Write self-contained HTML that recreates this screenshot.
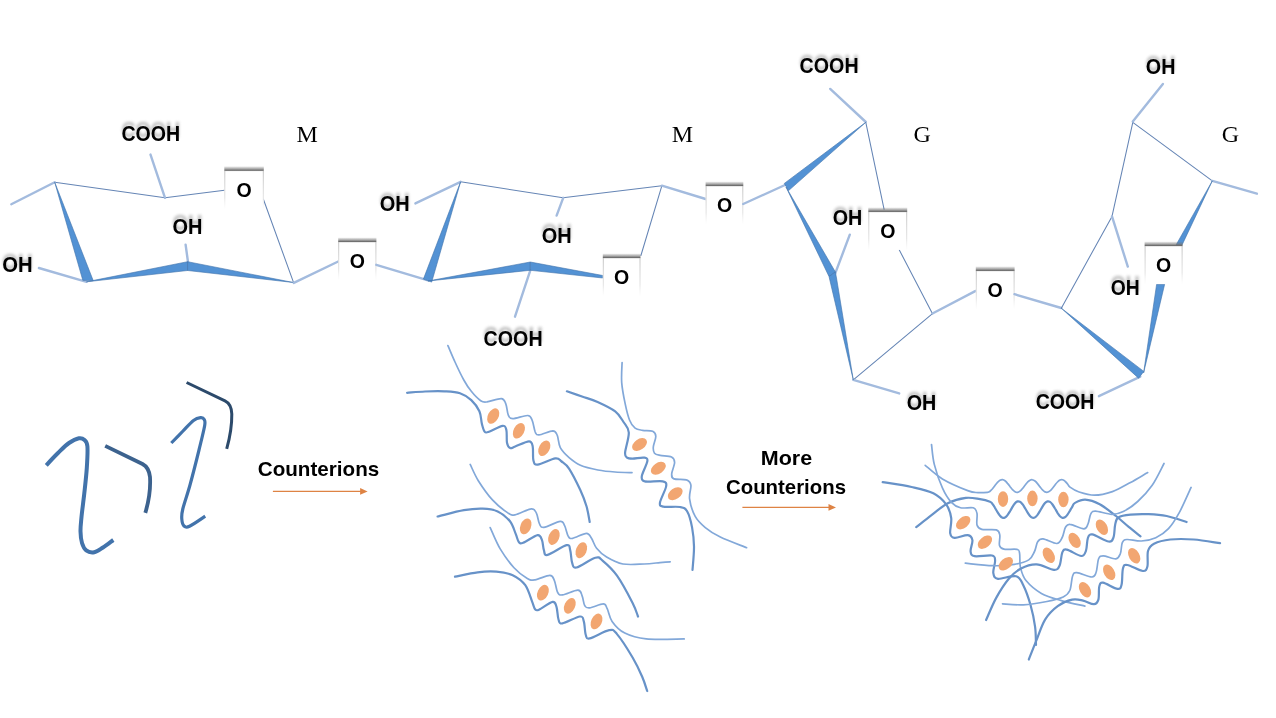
<!DOCTYPE html>
<html><head><meta charset="utf-8"><title>Alginate egg-box</title>
<style>
html,body{margin:0;padding:0;background:#fff;}
body{width:1276px;height:718px;overflow:hidden;font-family:"Liberation Sans",sans-serif;}
svg{display:block;opacity:0.999;}
</style></head><body>
<svg width="1276" height="718" viewBox="0 0 1276 718">
<defs>
<linearGradient id="topsh" x1="0" y1="0" x2="0" y2="1">
<stop offset="0" stop-color="#6e6e6e" stop-opacity="0"/>
<stop offset="0.45" stop-color="#7a7a7a" stop-opacity="0.55"/>
<stop offset="0.85" stop-color="#666" stop-opacity="0.95"/>
<stop offset="1" stop-color="#888" stop-opacity="0.6"/>
</linearGradient>
<linearGradient id="sidesh" x1="0" y1="0" x2="0" y2="1">
<stop offset="0" stop-color="#bdbdbd" stop-opacity="0.9"/>
<stop offset="0.7" stop-color="#cfcfcf" stop-opacity="0.6"/>
<stop offset="1" stop-color="#e0e0e0" stop-opacity="0"/>
</linearGradient>
<filter id="glow" x="-20%" y="-40%" width="140%" height="180%"><feGaussianBlur stdDeviation="1.6"/></filter>
</defs>
<rect width="1276" height="718" fill="#ffffff"/>
<line x1="54.7" y1="182.2" x2="165.0" y2="197.8" stroke="#6585b5" stroke-width="1.05" stroke-linecap="round"/>
<line x1="165.0" y1="197.8" x2="224.5" y2="190.2" stroke="#6585b5" stroke-width="1.05" stroke-linecap="round"/>
<line x1="263.3" y1="199.0" x2="293.6" y2="282.6" stroke="#6585b5" stroke-width="1.05" stroke-linecap="round"/>
<line x1="11.3" y1="204.3" x2="54.7" y2="182.2" stroke="#a3bbde" stroke-width="2.40" stroke-linecap="round"/>
<line x1="150.5" y1="154.6" x2="165.0" y2="197.8" stroke="#a3bbde" stroke-width="2.40" stroke-linecap="round"/>
<line x1="38.9" y1="268.0" x2="86.5" y2="281.8" stroke="#a3bbde" stroke-width="2.40" stroke-linecap="round"/>
<line x1="185.6" y1="244.7" x2="188.0" y2="262.0" stroke="#a3bbde" stroke-width="2.40" stroke-linecap="round"/>
<polygon points="54.7,182.2 82.8,280.3 93.3,280.8" fill="#5392d4" stroke="#3f72ab" stroke-width="0.6" stroke-linejoin="round"/>
<polygon points="86.5,281.8 187.6,261.7 187.6,270.5" fill="#5392d4" stroke="#3f72ab" stroke-width="0.6" stroke-linejoin="round"/>
<polygon points="187.6,261.7 187.6,270.5 293.4,282.5" fill="#5392d4" stroke="#3f72ab" stroke-width="0.6" stroke-linejoin="round"/>
<line x1="293.8" y1="282.9" x2="338.2" y2="261.5" stroke="#a3bbde" stroke-width="2.40" stroke-linecap="round"/>
<rect x="224.3" y="170.3" width="39.5" height="38.5" fill="#fff"/>
<rect x="224.3" y="166.1" width="39.5" height="5" fill="url(#topsh)"/>
<rect x="224.3" y="170.8" width="1" height="38.5" fill="url(#sidesh)"/>
<rect x="262.8" y="170.8" width="1" height="38.5" fill="url(#sidesh)"/>
<text x="244.1" y="197.0" text-anchor="middle" font-family='"Liberation Sans", sans-serif' font-size="20.8" font-weight="bold" fill="#000" textLength="15.2" lengthAdjust="spacingAndGlyphs">O</text>
<text x="121.4" y="137.3" text-anchor="start" font-family='"Liberation Sans", sans-serif' font-size="21.3" font-weight="bold" fill="#555" opacity="0.42" filter="url(#glow)" textLength="58.8" lengthAdjust="spacingAndGlyphs">COOH</text>
<text x="121.4" y="140.5" text-anchor="start" font-family='"Liberation Sans", sans-serif' font-size="21.3" font-weight="bold" fill="#000" textLength="58.8" lengthAdjust="spacingAndGlyphs">COOH</text>
<text x="172.5" y="230.4" text-anchor="start" font-family='"Liberation Sans", sans-serif' font-size="21.3" font-weight="bold" fill="#555" opacity="0.42" filter="url(#glow)" textLength="30.0" lengthAdjust="spacingAndGlyphs">OH</text>
<text x="172.5" y="233.6" text-anchor="start" font-family='"Liberation Sans", sans-serif' font-size="21.3" font-weight="bold" fill="#000" textLength="30.0" lengthAdjust="spacingAndGlyphs">OH</text>
<text x="2.2" y="269.1" text-anchor="start" font-family='"Liberation Sans", sans-serif' font-size="21.3" font-weight="bold" fill="#555" opacity="0.42" filter="url(#glow)" textLength="30.4" lengthAdjust="spacingAndGlyphs">OH</text>
<text x="2.2" y="272.3" text-anchor="start" font-family='"Liberation Sans", sans-serif' font-size="21.3" font-weight="bold" fill="#000" textLength="30.4" lengthAdjust="spacingAndGlyphs">OH</text>
<text x="296.6" y="141.8" text-anchor="start" font-family='"Liberation Serif", serif' font-size="24.0" font-weight="normal" fill="#000">M</text>
<rect x="338.2" y="241.5" width="38.2" height="38.5" fill="#fff"/>
<rect x="338.2" y="237.3" width="38.2" height="5" fill="url(#topsh)"/>
<rect x="338.2" y="242.0" width="1" height="38.5" fill="url(#sidesh)"/>
<rect x="375.4" y="242.0" width="1" height="38.5" fill="url(#sidesh)"/>
<text x="357.3" y="268.1" text-anchor="middle" font-family='"Liberation Sans", sans-serif' font-size="20.8" font-weight="bold" fill="#000" textLength="15.2" lengthAdjust="spacingAndGlyphs">O</text>
<line x1="376.3" y1="264.8" x2="428.0" y2="280.3" stroke="#a3bbde" stroke-width="2.40" stroke-linecap="round"/>
<line x1="460.6" y1="181.8" x2="563.0" y2="197.7" stroke="#6585b5" stroke-width="1.05" stroke-linecap="round"/>
<line x1="563.0" y1="197.7" x2="661.9" y2="185.7" stroke="#6585b5" stroke-width="1.05" stroke-linecap="round"/>
<line x1="661.9" y1="185.7" x2="640.9" y2="255.5" stroke="#6585b5" stroke-width="1.05" stroke-linecap="round"/>
<line x1="415.4" y1="203.4" x2="460.6" y2="181.8" stroke="#a3bbde" stroke-width="2.40" stroke-linecap="round"/>
<line x1="563.2" y1="197.8" x2="556.6" y2="215.6" stroke="#a3bbde" stroke-width="2.40" stroke-linecap="round"/>
<line x1="530.3" y1="270.3" x2="515.0" y2="316.7" stroke="#a3bbde" stroke-width="2.40" stroke-linecap="round"/>
<polygon points="460.6,181.8 423.4,279.1 431.7,282.1" fill="#5392d4" stroke="#3f72ab" stroke-width="0.6" stroke-linejoin="round"/>
<polygon points="428.0,281.0 530.3,262.0 530.3,270.3" fill="#5392d4" stroke="#3f72ab" stroke-width="0.6" stroke-linejoin="round"/>
<polygon points="530.3,262.0 530.3,270.3 602.8,278.0 602.8,275.5" fill="#5392d4" stroke="#3f72ab" stroke-width="0.6" stroke-linejoin="round"/>
<rect x="602.8" y="257.5" width="37.7" height="38.5" fill="#fff"/>
<rect x="602.8" y="253.3" width="37.7" height="5" fill="url(#topsh)"/>
<rect x="602.8" y="258.0" width="1" height="38.5" fill="url(#sidesh)"/>
<rect x="639.5" y="258.0" width="1" height="38.5" fill="url(#sidesh)"/>
<text x="621.6" y="284.1" text-anchor="middle" font-family='"Liberation Sans", sans-serif' font-size="20.8" font-weight="bold" fill="#000" textLength="15.2" lengthAdjust="spacingAndGlyphs">O</text>
<text x="379.8" y="208.2" text-anchor="start" font-family='"Liberation Sans", sans-serif' font-size="21.3" font-weight="bold" fill="#555" opacity="0.42" filter="url(#glow)" textLength="30.0" lengthAdjust="spacingAndGlyphs">OH</text>
<text x="379.8" y="211.4" text-anchor="start" font-family='"Liberation Sans", sans-serif' font-size="21.3" font-weight="bold" fill="#000" textLength="30.0" lengthAdjust="spacingAndGlyphs">OH</text>
<text x="541.7" y="239.4" text-anchor="start" font-family='"Liberation Sans", sans-serif' font-size="21.3" font-weight="bold" fill="#555" opacity="0.42" filter="url(#glow)" textLength="30.0" lengthAdjust="spacingAndGlyphs">OH</text>
<text x="541.7" y="242.6" text-anchor="start" font-family='"Liberation Sans", sans-serif' font-size="21.3" font-weight="bold" fill="#000" textLength="30.0" lengthAdjust="spacingAndGlyphs">OH</text>
<text x="483.6" y="342.3" text-anchor="start" font-family='"Liberation Sans", sans-serif' font-size="21.3" font-weight="bold" fill="#555" opacity="0.42" filter="url(#glow)" textLength="59.0" lengthAdjust="spacingAndGlyphs">COOH</text>
<text x="483.6" y="345.5" text-anchor="start" font-family='"Liberation Sans", sans-serif' font-size="21.3" font-weight="bold" fill="#000" textLength="59.0" lengthAdjust="spacingAndGlyphs">COOH</text>
<text x="671.8" y="141.8" text-anchor="start" font-family='"Liberation Serif", serif' font-size="24.0" font-weight="normal" fill="#000">M</text>
<line x1="661.9" y1="185.7" x2="705.6" y2="199.0" stroke="#a3bbde" stroke-width="2.40" stroke-linecap="round"/>
<rect x="705.6" y="185.5" width="37.7" height="38.5" fill="#fff"/>
<rect x="705.6" y="181.3" width="37.7" height="5" fill="url(#topsh)"/>
<rect x="705.6" y="186.0" width="1" height="38.5" fill="url(#sidesh)"/>
<rect x="742.3" y="186.0" width="1" height="38.5" fill="url(#sidesh)"/>
<text x="724.5" y="212.2" text-anchor="middle" font-family='"Liberation Sans", sans-serif' font-size="20.8" font-weight="bold" fill="#000" textLength="15.2" lengthAdjust="spacingAndGlyphs">O</text>
<line x1="743.2" y1="204.0" x2="785.0" y2="185.0" stroke="#a3bbde" stroke-width="2.40" stroke-linecap="round"/>
<line x1="865.8" y1="122.3" x2="884.1" y2="209.3" stroke="#6585b5" stroke-width="1.05" stroke-linecap="round"/>
<line x1="899.2" y1="249.8" x2="932.5" y2="313.7" stroke="#6585b5" stroke-width="1.05" stroke-linecap="round"/>
<line x1="932.5" y1="313.7" x2="853.3" y2="379.9" stroke="#6585b5" stroke-width="1.05" stroke-linecap="round"/>
<line x1="830.2" y1="88.9" x2="865.8" y2="122.0" stroke="#a3bbde" stroke-width="2.40" stroke-linecap="round"/>
<line x1="834.0" y1="276.6" x2="849.8" y2="234.7" stroke="#a3bbde" stroke-width="2.40" stroke-linecap="round"/>
<line x1="853.3" y1="379.9" x2="899.2" y2="393.4" stroke="#a3bbde" stroke-width="2.40" stroke-linecap="round"/>
<line x1="932.5" y1="313.5" x2="975.7" y2="290.9" stroke="#a3bbde" stroke-width="2.40" stroke-linecap="round"/>
<polygon points="865.8,122.3 784.3,183.4 788.6,190.6" fill="#5392d4" stroke="#3f72ab" stroke-width="0.6" stroke-linejoin="round"/>
<polygon points="786.0,187.0 829.0,276.5 835.4,272.0" fill="#5392d4" stroke="#3f72ab" stroke-width="0.6" stroke-linejoin="round"/>
<polygon points="829.0,276.5 835.4,272.0 836.5,278.0 853.3,379.9" fill="#5392d4" stroke="#3f72ab" stroke-width="0.6" stroke-linejoin="round"/>
<rect x="868.3" y="211.4" width="38.9" height="38.5" fill="#fff"/>
<rect x="868.3" y="207.2" width="38.9" height="5" fill="url(#topsh)"/>
<rect x="868.3" y="211.9" width="1" height="38.5" fill="url(#sidesh)"/>
<rect x="906.2" y="211.9" width="1" height="38.5" fill="url(#sidesh)"/>
<text x="887.8" y="238.1" text-anchor="middle" font-family='"Liberation Sans", sans-serif' font-size="20.8" font-weight="bold" fill="#000" textLength="15.2" lengthAdjust="spacingAndGlyphs">O</text>
<text x="799.6" y="69.9" text-anchor="start" font-family='"Liberation Sans", sans-serif' font-size="21.3" font-weight="bold" fill="#555" opacity="0.42" filter="url(#glow)" textLength="59.0" lengthAdjust="spacingAndGlyphs">COOH</text>
<text x="799.6" y="73.1" text-anchor="start" font-family='"Liberation Sans", sans-serif' font-size="21.3" font-weight="bold" fill="#000" textLength="59.0" lengthAdjust="spacingAndGlyphs">COOH</text>
<text x="832.7" y="221.5" text-anchor="start" font-family='"Liberation Sans", sans-serif' font-size="21.3" font-weight="bold" fill="#555" opacity="0.42" filter="url(#glow)" textLength="29.6" lengthAdjust="spacingAndGlyphs">OH</text>
<text x="832.7" y="224.7" text-anchor="start" font-family='"Liberation Sans", sans-serif' font-size="21.3" font-weight="bold" fill="#000" textLength="29.6" lengthAdjust="spacingAndGlyphs">OH</text>
<text x="906.7" y="406.5" text-anchor="start" font-family='"Liberation Sans", sans-serif' font-size="21.3" font-weight="bold" fill="#555" opacity="0.42" filter="url(#glow)" textLength="29.6" lengthAdjust="spacingAndGlyphs">OH</text>
<text x="906.7" y="409.7" text-anchor="start" font-family='"Liberation Sans", sans-serif' font-size="21.3" font-weight="bold" fill="#000" textLength="29.6" lengthAdjust="spacingAndGlyphs">OH</text>
<text x="913.5" y="142.0" text-anchor="start" font-family='"Liberation Serif", serif' font-size="24.0" font-weight="normal" fill="#000">G</text>
<rect x="975.8" y="270.4" width="38.8" height="38.5" fill="#fff"/>
<rect x="975.8" y="266.2" width="38.8" height="5" fill="url(#topsh)"/>
<rect x="975.8" y="270.9" width="1" height="38.5" fill="url(#sidesh)"/>
<rect x="1013.6" y="270.9" width="1" height="38.5" fill="url(#sidesh)"/>
<text x="995.2" y="297.0" text-anchor="middle" font-family='"Liberation Sans", sans-serif' font-size="20.8" font-weight="bold" fill="#000" textLength="15.2" lengthAdjust="spacingAndGlyphs">O</text>
<line x1="1014.5" y1="294.2" x2="1061.3" y2="308.0" stroke="#a3bbde" stroke-width="2.40" stroke-linecap="round"/>
<line x1="1132.8" y1="122.3" x2="1212.3" y2="180.9" stroke="#6585b5" stroke-width="1.05" stroke-linecap="round"/>
<line x1="1132.8" y1="122.3" x2="1112.0" y2="216.4" stroke="#6585b5" stroke-width="1.05" stroke-linecap="round"/>
<line x1="1112.0" y1="216.4" x2="1061.3" y2="308.2" stroke="#6585b5" stroke-width="1.05" stroke-linecap="round"/>
<line x1="1162.9" y1="83.9" x2="1132.8" y2="121.5" stroke="#a3bbde" stroke-width="2.40" stroke-linecap="round"/>
<line x1="1212.3" y1="180.9" x2="1256.9" y2="193.7" stroke="#a3bbde" stroke-width="2.40" stroke-linecap="round"/>
<line x1="1112.0" y1="216.4" x2="1127.8" y2="266.6" stroke="#a3bbde" stroke-width="2.40" stroke-linecap="round"/>
<line x1="1140.3" y1="376.6" x2="1098.9" y2="396.2" stroke="#a3bbde" stroke-width="2.40" stroke-linecap="round"/>
<polygon points="1212.3,180.9 1176.2,244.7 1182.2,244.7" fill="#5392d4" stroke="#3f72ab" stroke-width="0.6" stroke-linejoin="round"/>
<polygon points="1156.6,284.4 1164.6,284.4 1143.6,372.9" fill="#5392d4" stroke="#3f72ab" stroke-width="0.6" stroke-linejoin="round"/>
<polygon points="1061.3,308.2 1143.8,371.4 1138.6,378.2" fill="#5392d4" stroke="#3f72ab" stroke-width="0.6" stroke-linejoin="round"/>
<rect x="1144.6" y="245.5" width="38.0" height="38.5" fill="#fff"/>
<rect x="1144.6" y="241.3" width="38.0" height="5" fill="url(#topsh)"/>
<rect x="1144.6" y="246.0" width="1" height="38.5" fill="url(#sidesh)"/>
<rect x="1181.6" y="246.0" width="1" height="38.5" fill="url(#sidesh)"/>
<text x="1163.6" y="272.1" text-anchor="middle" font-family='"Liberation Sans", sans-serif' font-size="20.8" font-weight="bold" fill="#000" textLength="15.2" lengthAdjust="spacingAndGlyphs">O</text>
<text x="1145.8" y="70.7" text-anchor="start" font-family='"Liberation Sans", sans-serif' font-size="21.3" font-weight="bold" fill="#555" opacity="0.42" filter="url(#glow)" textLength="29.6" lengthAdjust="spacingAndGlyphs">OH</text>
<text x="1145.8" y="73.9" text-anchor="start" font-family='"Liberation Sans", sans-serif' font-size="21.3" font-weight="bold" fill="#000" textLength="29.6" lengthAdjust="spacingAndGlyphs">OH</text>
<text x="1110.7" y="291.4" text-anchor="start" font-family='"Liberation Sans", sans-serif' font-size="21.3" font-weight="bold" fill="#555" opacity="0.42" filter="url(#glow)" textLength="29.0" lengthAdjust="spacingAndGlyphs">OH</text>
<text x="1110.7" y="294.6" text-anchor="start" font-family='"Liberation Sans", sans-serif' font-size="21.3" font-weight="bold" fill="#000" textLength="29.0" lengthAdjust="spacingAndGlyphs">OH</text>
<text x="1035.7" y="405.7" text-anchor="start" font-family='"Liberation Sans", sans-serif' font-size="21.3" font-weight="bold" fill="#555" opacity="0.42" filter="url(#glow)" textLength="58.7" lengthAdjust="spacingAndGlyphs">COOH</text>
<text x="1035.7" y="408.9" text-anchor="start" font-family='"Liberation Sans", sans-serif' font-size="21.3" font-weight="bold" fill="#000" textLength="58.7" lengthAdjust="spacingAndGlyphs">COOH</text>
<text x="1221.8" y="142.0" text-anchor="start" font-family='"Liberation Serif", serif' font-size="24.0" font-weight="normal" fill="#000">G</text>
<path d="M46.3 465.3 C48.2 463.2 54.2 456.7 58.0 453.0 C61.8 449.3 65.5 445.4 69.0 443.0 C72.5 440.6 76.3 438.8 78.9 438.3 C81.5 437.8 83.1 438.7 84.5 440.0 C85.9 441.3 87.0 441.6 87.4 446.3 C87.8 451.0 87.3 460.2 86.8 468.0 C86.3 475.8 85.2 485.1 84.3 493.3 C83.4 501.5 82.1 510.6 81.5 517.0 C80.9 523.4 80.4 527.1 80.5 531.4 C80.6 535.7 81.0 539.8 82.0 543.0 C83.0 546.2 84.2 548.9 86.2 550.4 C88.2 551.9 91.5 552.7 94.3 552.2 C97.1 551.7 99.8 549.5 103.0 547.5 C106.2 545.5 111.6 541.2 113.3 540.0" fill="none" stroke="#4273ab" stroke-width="4.00" stroke-linecap="round" stroke-linejoin="round" style="stroke-linecap:butt"/>
<path d="M105.2 445.9 L142.5 464 Q149 467.5 150 477 Q151 494 145.3 512.9" fill="none" stroke="#3c628e" stroke-width="3.80" stroke-linecap="round" stroke-linejoin="round" style="stroke-linecap:butt"/>
<path d="M171.3 443.0 C173.2 441.0 179.3 434.8 183.0 431.0 C186.7 427.2 190.6 422.7 193.5 420.5 C196.4 418.3 198.7 417.9 200.5 417.7 C202.3 417.5 203.5 418.1 204.2 419.5 C204.9 420.9 205.5 420.9 204.6 426.0 C203.7 431.1 201.4 440.2 199.0 450.0 C196.6 459.8 192.7 475.2 190.0 485.0 C187.3 494.8 184.2 503.3 182.8 509.0 C181.4 514.7 181.6 516.2 181.8 519.0 C182.0 521.8 182.7 524.8 184.0 526.0 C185.3 527.2 186.0 527.9 189.5 526.3 C193.0 524.7 202.6 517.9 205.2 516.2" fill="none" stroke="#4273ab" stroke-width="3.20" stroke-linecap="round" stroke-linejoin="round" style="stroke-linecap:butt"/>
<path d="M186.6 382.5 L225 400.8 Q231.5 404 231.8 414 Q232 430 226.7 448.8" fill="none" stroke="#2c4a6b" stroke-width="3.00" stroke-linecap="round" stroke-linejoin="round" style="stroke-linecap:butt"/>
<text x="257.8" y="475.5" text-anchor="start" font-family='"Liberation Sans", sans-serif' font-size="20.5" font-weight="bold" fill="#000" textLength="121.4" lengthAdjust="spacingAndGlyphs">Counterions</text>
<line x1="272.9" y1="491.4" x2="362.6" y2="491.4" stroke="#de8344" stroke-width="1.3"/>
<polygon points="367.6,491.4 360.1,488.1 360.1,494.7" fill="#de8344"/>
<text x="760.8" y="464.7" text-anchor="start" font-family='"Liberation Sans", sans-serif' font-size="20.5" font-weight="bold" fill="#000" textLength="51.4" lengthAdjust="spacingAndGlyphs">More</text>
<text x="726.0" y="493.6" text-anchor="start" font-family='"Liberation Sans", sans-serif' font-size="20.5" font-weight="bold" fill="#000" textLength="120.0" lengthAdjust="spacingAndGlyphs">Counterions</text>
<line x1="742.4" y1="507.4" x2="831.0" y2="507.4" stroke="#de8344" stroke-width="1.3"/>
<polygon points="836.0,507.4 828.5,504.1 828.5,510.7" fill="#de8344"/>
<path d="M447.9 345.6 C449.1 348.3 452.4 356.3 455.0 362.0 C457.6 367.7 461.1 375.1 463.8 380.0 C466.5 384.9 468.5 387.9 471.3 391.3 C474.1 394.8 478.1 398.9 480.7 400.7 C483.3 402.5 483.6 402.2 487.0 401.9 C490.4 401.5 498.3 398.3 501.4 398.6 C504.5 398.9 504.6 401.1 505.8 403.8 C507.0 406.6 507.1 412.6 508.3 415.1 C509.5 417.6 509.5 418.5 512.7 418.6 C515.9 418.7 524.5 415.2 527.7 415.5 C530.9 415.8 530.9 417.4 532.1 420.1 C533.4 422.9 534.1 429.5 535.2 432.0 C536.4 434.5 536.1 435.1 539.0 434.9 C541.9 434.7 549.8 430.8 552.8 430.8 C555.8 430.9 556.0 432.4 557.2 435.2 C558.5 438.0 558.3 443.9 560.3 447.7 C562.3 451.4 565.8 454.8 569.1 457.7 C572.5 460.6 575.6 463.2 580.4 465.3 C585.2 467.4 592.1 468.9 597.9 470.0 C603.7 471.1 609.3 471.6 615.0 472.0 C620.7 472.4 629.2 472.6 632.0 472.7" fill="none" stroke="#82a8d9" stroke-width="1.70" stroke-linecap="round" stroke-linejoin="round" />
<path d="M407.1 392.8 C410.1 392.6 418.8 391.8 425.0 391.5 C431.2 391.2 438.8 391.0 444.6 391.3 C450.4 391.6 455.6 391.7 460.0 393.2 C464.4 394.7 468.1 397.1 471.3 400.1 C474.5 403.1 477.6 407.3 479.4 411.3 C481.2 415.3 481.0 420.5 481.9 423.9 C482.8 427.2 483.4 430.0 484.5 431.4 C485.6 432.8 485.2 432.9 488.2 432.0 C491.2 431.1 499.6 426.1 502.6 425.8 C505.6 425.5 505.7 427.4 506.4 430.2 C507.1 433.0 506.4 439.7 507.0 442.7 C507.6 445.7 508.8 447.5 510.2 448.1 C511.6 448.7 512.1 447.6 515.2 446.5 C518.3 445.4 526.1 441.4 529.0 441.4 C531.9 441.4 532.0 443.4 532.7 446.5 C533.4 449.6 532.6 457.3 533.4 460.3 C534.2 463.3 534.1 464.9 537.7 464.6 C541.4 464.3 551.3 458.9 555.3 458.4 C559.3 457.9 559.3 459.8 561.6 461.5 C563.9 463.2 566.1 464.1 569.2 468.8 C572.3 473.6 577.4 483.8 580.3 490.0 C583.2 496.2 584.9 501.0 586.5 506.3 C588.1 511.6 589.2 519.4 589.7 522.0" fill="none" stroke="#6792c8" stroke-width="2.20" stroke-linecap="round" stroke-linejoin="round" />
<path d="M622.1 362.5 C622.0 365.9 621.2 375.7 621.7 382.6 C622.2 389.5 623.9 397.7 625.2 403.9 C626.5 410.1 627.9 415.9 629.5 420.0 C631.1 424.1 632.9 426.5 635.1 428.2 C637.3 429.9 639.7 429.8 642.6 430.3 C645.5 430.8 650.5 430.3 652.7 431.3 C654.9 432.3 655.7 433.7 655.8 436.3 C655.9 438.9 653.5 444.2 653.3 447.0 C653.1 449.8 653.4 451.8 654.5 453.2 C655.6 454.6 657.4 454.8 660.2 455.4 C663.0 456.0 669.1 455.8 671.5 457.0 C673.9 458.2 674.6 459.8 674.6 462.6 C674.6 465.4 671.8 471.2 671.7 473.9 C671.6 476.6 671.5 477.9 674.0 478.9 C676.5 479.9 683.7 478.8 686.5 479.9 C689.3 480.9 690.4 482.0 690.9 485.2 C691.4 488.4 688.9 493.6 689.6 498.8 C690.3 504.0 692.6 511.6 695.2 516.4 C697.8 521.2 701.1 524.1 705.3 527.6 C709.5 531.1 713.4 533.8 720.3 537.1 C727.2 540.5 742.2 545.9 746.6 547.7" fill="none" stroke="#82a8d9" stroke-width="1.70" stroke-linecap="round" stroke-linejoin="round" />
<path d="M566.9 391.3 C569.4 392.2 576.9 394.7 582.0 396.5 C587.1 398.3 592.1 399.5 597.6 402.0 C603.1 404.5 610.9 408.1 615.2 411.4 C619.5 414.7 621.2 418.5 623.5 422.0 C625.8 425.5 628.5 427.4 628.8 432.5 C629.1 437.6 625.4 448.4 625.1 452.6 C624.8 456.8 625.8 456.6 627.0 457.6 C628.2 458.6 629.8 458.6 632.6 458.6 C635.4 458.6 641.4 457.2 643.9 457.6 C646.4 458.0 647.7 457.9 647.4 460.8 C647.1 463.7 642.8 472.0 642.0 475.2 C641.2 478.4 641.7 479.1 642.6 480.2 C643.5 481.3 644.2 481.5 647.6 481.7 C651.0 481.9 659.6 480.7 662.7 481.4 C665.8 482.1 666.7 482.5 666.2 486.0 C665.8 489.5 660.5 499.1 660.0 502.5 C659.5 505.9 659.9 505.9 663.3 506.7 C666.7 507.4 676.2 506.2 680.2 507.0 C684.2 507.8 685.1 507.9 687.1 511.3 C689.1 514.7 691.0 521.7 692.1 527.6 C693.2 533.5 693.9 539.4 694.0 546.5 C694.1 553.6 692.8 566.1 692.5 570.0" fill="none" stroke="#6792c8" stroke-width="2.20" stroke-linecap="round" stroke-linejoin="round" />
<path d="M470.2 464.4 C471.6 467.1 474.6 474.7 478.3 480.7 C482.1 486.7 487.8 494.9 492.7 500.2 C497.6 505.5 503.8 510.2 507.5 512.6 C511.2 515.0 511.0 515.4 515.0 514.8 C519.0 514.2 527.7 509.1 531.3 508.8 C534.9 508.5 535.0 510.7 536.4 513.2 C537.8 515.7 538.2 521.5 539.5 523.9 C540.8 526.3 540.4 527.8 543.9 527.4 C547.4 527.0 556.8 521.6 560.2 521.3 C563.7 521.0 563.2 523.2 564.6 525.7 C566.0 528.2 566.9 534.3 568.3 536.4 C569.6 538.5 569.7 538.8 572.7 538.3 C575.7 537.8 583.4 533.3 586.5 533.3 C589.6 533.3 589.8 535.8 591.5 538.3 C593.2 540.8 594.1 545.2 596.6 548.3 C599.1 551.4 602.2 554.5 606.6 557.1 C611.0 559.7 616.6 562.9 622.9 564.0 C629.2 565.1 638.0 564.2 644.2 564.0 C650.4 563.8 655.7 563.0 660.0 562.6 C664.3 562.2 668.5 561.9 670.2 561.8" fill="none" stroke="#82a8d9" stroke-width="1.70" stroke-linecap="round" stroke-linejoin="round" />
<path d="M437.6 516.5 C442.0 515.5 456.4 511.5 463.9 510.2 C471.4 508.9 477.1 508.5 482.7 508.7 C488.3 508.9 493.1 509.3 497.7 511.4 C502.2 513.5 507.0 517.5 510.0 521.3 C513.0 525.0 514.2 530.4 515.7 533.9 C517.2 537.4 517.5 540.5 518.8 542.0 C520.0 543.5 520.1 543.9 523.2 542.7 C526.3 541.6 534.5 535.5 537.6 535.1 C540.7 534.7 541.0 537.7 542.0 540.2 C543.0 542.7 543.0 547.8 543.9 550.2 C544.8 552.7 543.8 555.7 547.6 554.9 C551.4 554.1 562.7 546.0 566.5 545.2 C570.3 544.4 569.3 547.3 570.2 550.2 C571.1 553.1 571.1 559.8 572.1 562.7 C573.1 565.6 572.6 568.3 576.5 567.5 C580.4 566.7 590.9 558.8 595.3 557.7 C599.7 556.6 599.2 557.8 602.8 560.8 C606.4 563.8 612.0 568.6 617.0 575.6 C622.0 582.6 629.1 596.1 632.6 602.9 C636.1 609.7 637.1 614.2 638.0 616.5" fill="none" stroke="#6792c8" stroke-width="2.20" stroke-linecap="round" stroke-linejoin="round" />
<path d="M490.2 527.6 C491.9 531.1 496.2 542.2 500.2 548.9 C504.2 555.6 509.5 562.8 514.0 567.7 C518.5 572.6 523.8 576.5 527.3 578.5 C530.8 580.5 531.3 580.3 535.1 579.8 C538.9 579.3 546.7 575.3 549.9 575.4 C553.1 575.5 553.1 577.8 554.4 580.6 C555.7 583.5 556.3 590.1 557.7 592.5 C559.1 594.9 559.2 595.3 562.6 594.9 C566.0 594.5 574.7 590.0 578.0 590.2 C581.3 590.4 581.1 593.5 582.2 596.1 C583.3 598.7 583.5 603.8 584.8 605.8 C586.0 607.8 586.6 608.1 589.7 607.8 C592.8 607.5 600.4 603.8 603.3 603.9 C606.2 604.0 605.7 605.8 607.2 608.7 C608.7 611.6 609.2 617.3 612.1 621.4 C615.0 625.5 619.1 630.2 624.8 633.1 C630.5 636.0 636.3 637.9 646.2 638.9 C656.1 639.9 677.9 638.9 684.2 638.9" fill="none" stroke="#82a8d9" stroke-width="1.70" stroke-linecap="round" stroke-linejoin="round" />
<path d="M455.0 576.7 C458.8 576.0 470.7 573.1 477.6 572.3 C484.5 571.5 490.5 571.2 496.4 571.7 C502.2 572.2 507.9 573.0 512.7 575.2 C517.5 577.5 522.0 580.8 525.3 585.2 C528.5 589.7 530.6 597.9 532.2 601.9 C533.8 605.9 534.0 607.9 535.1 609.2 C536.2 610.5 536.1 610.9 539.0 609.7 C541.9 608.5 549.7 602.4 552.6 601.9 C555.5 601.4 555.5 603.9 556.5 606.8 C557.5 609.7 557.5 616.7 558.5 619.5 C559.5 622.3 558.8 623.9 562.4 623.4 C566.0 622.9 576.3 616.8 579.9 616.5 C583.5 616.2 582.8 618.3 583.8 621.4 C584.8 624.5 584.8 632.2 585.8 635.0 C586.8 637.8 585.8 639.2 589.7 638.4 C593.6 637.6 604.7 630.9 609.2 630.2 C613.8 629.5 613.1 629.6 617.0 634.1 C620.9 638.6 628.4 650.4 632.6 657.5 C636.8 664.6 639.9 671.4 642.3 677.0 C644.7 682.6 646.4 688.7 647.2 691.0" fill="none" stroke="#6792c8" stroke-width="2.20" stroke-linecap="round" stroke-linejoin="round" />
<path d="M925.2 465.3 C928.1 467.6 935.3 474.7 942.4 478.9 C949.5 483.1 961.8 488.3 967.7 490.6 C973.6 492.9 974.7 492.3 978.0 492.6 C981.3 492.9 985.5 492.5 987.5 492.3 C989.5 492.1 989.2 491.8 990.0 491.2 C990.8 490.6 991.7 489.7 992.5 488.8 C993.3 487.8 994.2 486.6 995.0 485.5 C995.8 484.5 996.7 483.3 997.5 482.4 C998.3 481.6 999.2 480.8 1000.0 480.3 C1000.8 479.9 1001.7 479.6 1002.5 479.7 C1003.3 479.8 1004.2 480.2 1005.0 480.8 C1005.8 481.4 1006.7 482.4 1007.5 483.4 C1008.3 484.3 1009.2 485.5 1010.0 486.6 C1010.8 487.6 1011.7 488.8 1012.5 489.7 C1013.3 490.5 1014.2 491.3 1015.0 491.7 C1015.8 492.2 1016.7 492.4 1017.5 492.3 C1018.3 492.2 1019.2 491.7 1020.0 491.1 C1020.8 490.5 1021.7 489.5 1022.5 488.5 C1023.3 487.5 1024.2 486.3 1025.0 485.3 C1025.8 484.2 1026.7 483.1 1027.5 482.2 C1028.3 481.4 1029.2 480.6 1030.0 480.2 C1030.8 479.8 1031.7 479.6 1032.5 479.8 C1033.3 479.9 1034.2 480.4 1035.0 481.0 C1035.8 481.6 1036.7 482.6 1037.5 483.6 C1038.3 484.6 1039.2 485.8 1040.0 486.9 C1040.8 487.9 1041.7 489.1 1042.5 489.9 C1043.3 490.7 1044.2 491.5 1045.0 491.9 C1045.8 492.2 1046.7 492.4 1047.5 492.2 C1048.3 492.1 1049.2 491.6 1050.0 490.9 C1050.8 490.3 1051.7 489.3 1052.5 488.3 C1053.3 487.3 1054.2 486.1 1055.0 485.0 C1055.8 484.0 1056.7 482.8 1057.5 482.0 C1058.3 481.2 1059.2 480.5 1060.0 480.1 C1060.8 479.7 1061.7 479.6 1062.5 479.8 C1063.3 480.0 1064.2 480.5 1065.0 481.2 C1065.8 481.8 1066.7 482.9 1067.5 483.9 C1068.3 484.8 1068.2 485.8 1070.0 487.1 C1071.8 488.4 1074.5 490.5 1078.5 491.8 C1082.5 493.1 1088.6 495.2 1094.3 495.2 C1100.0 495.2 1106.4 493.7 1112.4 491.6 C1118.4 489.5 1124.6 485.7 1130.5 482.5 C1136.4 479.3 1144.8 474.2 1147.7 472.6" fill="none" stroke="#82a8d9" stroke-width="1.70" stroke-linecap="round" stroke-linejoin="round" />
<path d="M916.2 527.2 C918.8 525.2 926.2 519.1 931.5 515.1 C936.8 511.1 942.1 506.2 947.8 503.3 C953.5 500.4 960.5 498.6 965.9 497.9 C971.3 497.2 976.0 498.6 980.0 499.2 C984.0 499.8 987.9 500.9 990.0 501.7 C992.1 502.5 991.7 502.9 992.5 504.0 C993.3 505.0 994.2 506.4 995.0 507.8 C995.8 509.1 996.7 510.8 997.5 512.1 C998.3 513.4 999.2 514.8 1000.0 515.7 C1000.8 516.7 1001.7 517.4 1002.5 517.7 C1003.3 518.0 1004.2 517.9 1005.0 517.5 C1005.8 517.1 1006.7 516.2 1007.5 515.1 C1008.3 514.1 1009.2 512.6 1010.0 511.3 C1010.8 509.9 1011.7 508.3 1012.5 506.9 C1013.3 505.6 1014.2 504.3 1015.0 503.3 C1015.8 502.4 1016.7 501.7 1017.5 501.4 C1018.3 501.2 1019.2 501.3 1020.0 501.8 C1020.8 502.2 1021.7 503.2 1022.5 504.2 C1023.3 505.3 1024.2 506.8 1025.0 508.1 C1025.8 509.5 1026.7 511.1 1027.5 512.4 C1028.3 513.7 1029.2 515.1 1030.0 516.0 C1030.8 516.9 1031.7 517.5 1032.5 517.8 C1033.3 518.0 1034.2 517.9 1035.0 517.4 C1035.8 516.9 1036.7 515.9 1037.5 514.9 C1038.3 513.8 1039.2 512.3 1040.0 510.9 C1040.8 509.5 1041.7 507.9 1042.5 506.6 C1043.3 505.3 1044.2 504.0 1045.0 503.1 C1045.8 502.2 1046.7 501.6 1047.5 501.4 C1048.3 501.2 1049.2 501.4 1050.0 501.9 C1050.8 502.4 1051.7 503.4 1052.5 504.5 C1053.3 505.6 1054.2 507.1 1055.0 508.5 C1055.8 509.8 1056.7 511.5 1057.5 512.8 C1058.3 514.0 1059.2 515.3 1060.0 516.2 C1060.8 517.0 1061.7 517.7 1062.5 517.8 C1063.3 518.0 1064.2 517.8 1065.0 517.2 C1065.8 516.7 1066.7 515.7 1067.5 514.6 C1068.3 513.5 1069.2 511.9 1070.0 510.6 C1070.8 509.2 1071.7 507.6 1072.5 506.3 C1073.3 505.0 1072.9 504.0 1075.0 502.9 C1077.1 501.8 1081.1 499.5 1085.2 499.7 C1089.3 499.9 1094.6 501.6 1099.7 504.3 C1104.8 507.0 1111.2 512.2 1116.0 516.0 C1120.8 519.8 1124.6 523.5 1128.7 526.9 C1132.8 530.3 1138.5 534.7 1140.5 536.3" fill="none" stroke="#6792c8" stroke-width="2.20" stroke-linecap="round" stroke-linejoin="round" />
<path d="M931.5 444.5 C932.0 447.8 932.5 457.2 934.3 464.4 C936.1 471.6 939.5 481.6 942.4 487.9 C945.2 494.2 948.4 499.1 951.4 502.4 C954.4 505.7 956.9 506.9 960.5 507.8 C964.1 508.7 970.5 506.9 973.2 507.8 C976.0 508.7 976.4 510.5 977.0 513.4 C977.6 516.3 976.2 522.3 977.0 525.0 C977.8 527.7 978.6 528.6 981.8 529.4 C985.0 530.2 993.3 528.9 996.3 529.9 C999.3 530.9 999.3 532.5 999.8 535.1 C1000.3 537.7 998.8 543.1 999.5 545.5 C1000.2 547.9 1001.1 548.6 1004.0 549.2 C1006.9 549.9 1014.4 548.7 1017.0 549.4 C1019.6 550.1 1019.0 550.3 1019.6 553.3 C1020.2 556.3 1019.4 563.0 1020.5 567.5 C1021.6 572.0 1022.5 576.2 1026.0 580.5 C1029.5 584.8 1035.5 590.0 1041.4 593.4 C1047.3 596.8 1054.2 598.5 1061.4 600.6 C1068.7 602.7 1081.0 605.2 1084.9 606.1" fill="none" stroke="#82a8d9" stroke-width="1.70" stroke-linecap="round" stroke-linejoin="round" />
<path d="M882.7 482.1 C887.5 482.9 903.2 485.1 911.6 487.0 C920.0 488.9 927.6 490.4 933.3 493.3 C939.0 496.2 943.0 500.1 946.0 504.2 C949.0 508.3 950.5 513.1 951.2 518.0 C951.9 522.9 949.6 530.0 950.2 533.3 C950.8 536.6 951.8 537.5 954.7 537.8 C957.6 538.1 964.8 534.7 967.8 535.1 C970.8 535.5 971.9 537.4 972.4 540.1 C972.9 542.8 970.2 548.7 970.6 551.4 C971.0 554.1 971.0 555.5 974.6 556.2 C978.2 556.9 988.6 554.8 992.0 555.5 C995.4 556.2 994.9 557.7 995.1 560.6 C995.3 563.5 992.8 570.0 993.3 573.0 C993.8 576.0 994.1 578.3 997.9 578.8 C1001.7 579.3 1011.9 575.1 1016.1 576.2 C1020.3 577.3 1020.9 580.4 1023.3 585.2 C1025.7 590.0 1028.6 598.2 1030.6 605.2 C1032.6 612.2 1034.2 620.3 1035.1 626.9 C1036.0 633.5 1035.8 642.0 1036.0 645.0" fill="none" stroke="#6792c8" stroke-width="2.20" stroke-linecap="round" stroke-linejoin="round" />
<path d="M965.3 563.2 C969.8 563.6 984.4 565.5 992.6 565.7 C1000.8 565.9 1008.3 565.4 1014.3 564.4 C1020.3 563.4 1025.4 562.0 1028.8 559.9 C1032.2 557.8 1033.0 554.5 1034.5 551.5 C1036.0 548.5 1036.3 543.8 1037.7 541.7 C1039.1 539.6 1039.9 538.6 1043.1 538.9 C1046.3 539.2 1053.6 543.7 1056.8 543.5 C1060.0 543.3 1060.8 540.2 1062.2 537.5 C1063.7 534.8 1064.2 529.5 1065.5 527.3 C1066.8 525.1 1066.9 524.0 1070.0 524.3 C1073.1 524.5 1080.9 528.9 1083.9 528.8 C1086.9 528.7 1086.9 526.2 1088.1 523.7 C1089.2 521.2 1089.6 515.9 1090.8 513.8 C1092.0 511.7 1091.9 511.0 1095.4 511.1 C1098.9 511.2 1107.2 514.2 1111.9 514.3 C1116.6 514.4 1119.0 513.6 1123.3 511.5 C1127.6 509.4 1132.9 505.9 1137.7 501.5 C1142.5 497.1 1147.8 491.5 1152.2 485.2 C1156.6 478.9 1162.0 467.1 1164.0 463.5" fill="none" stroke="#82a8d9" stroke-width="1.70" stroke-linecap="round" stroke-linejoin="round" />
<path d="M986.1 620.0 C987.8 616.3 992.4 604.8 996.2 597.9 C1000.0 591.0 1004.7 583.7 1008.8 578.8 C1012.9 573.9 1016.4 570.8 1021.0 568.4 C1025.6 566.0 1031.0 564.1 1036.5 564.3 C1042.0 564.5 1050.1 569.6 1053.9 569.8 C1057.8 570.0 1058.2 568.4 1059.6 565.5 C1061.0 562.6 1061.1 555.1 1062.3 552.5 C1063.5 549.9 1063.6 549.0 1066.8 549.6 C1070.0 550.2 1078.1 555.8 1081.3 556.0 C1084.5 556.2 1084.9 553.6 1086.0 550.6 C1087.1 547.6 1086.8 541.0 1087.8 538.3 C1088.8 535.6 1088.8 533.9 1092.2 534.4 C1095.7 534.9 1105.0 541.0 1108.5 541.5 C1112.0 542.0 1112.4 540.2 1113.5 537.4 C1114.6 534.6 1114.4 527.9 1115.2 524.5 C1116.0 521.1 1116.0 518.9 1118.5 517.3 C1121.0 515.6 1125.5 515.1 1130.5 514.6 C1135.5 514.1 1142.6 514.0 1148.6 514.2 C1154.6 514.4 1160.4 514.7 1166.7 516.0 C1173.0 517.3 1183.3 521.0 1186.6 522.0" fill="none" stroke="#6792c8" stroke-width="2.20" stroke-linecap="round" stroke-linejoin="round" />
<path d="M1002.5 603.8 C1006.0 604.0 1015.9 605.2 1023.3 604.8 C1030.7 604.4 1040.2 602.8 1046.9 601.5 C1053.6 600.2 1059.4 598.8 1063.2 597.0 C1067.0 595.2 1068.2 594.0 1069.8 590.5 C1071.4 587.0 1071.4 579.0 1072.6 576.0 C1073.8 573.0 1073.7 572.5 1076.9 572.7 C1080.1 572.9 1088.8 577.1 1092.0 577.0 C1095.2 576.9 1095.1 575.1 1096.2 572.0 C1097.3 568.9 1097.5 561.2 1098.7 558.5 C1099.9 555.8 1100.3 555.8 1103.2 555.8 C1106.1 555.8 1113.0 559.2 1115.9 558.8 C1118.8 558.4 1119.3 556.2 1120.4 553.5 C1121.5 550.8 1121.2 545.0 1122.3 542.7 C1123.4 540.4 1123.7 539.8 1126.9 539.5 C1130.1 539.2 1136.6 541.3 1141.4 541.0 C1146.2 540.7 1151.3 539.8 1155.8 537.7 C1160.3 535.7 1164.6 532.9 1168.5 528.7 C1172.4 524.5 1175.6 519.3 1179.4 512.4 C1183.2 505.5 1189.1 491.6 1191.1 487.4" fill="none" stroke="#82a8d9" stroke-width="1.70" stroke-linecap="round" stroke-linejoin="round" />
<path d="M1028.8 659.5 C1030.0 656.5 1033.3 648.0 1036.0 641.4 C1038.7 634.8 1041.5 625.5 1045.1 619.6 C1048.7 613.7 1053.2 609.4 1057.7 606.1 C1062.2 602.8 1068.0 600.6 1072.2 599.7 C1076.4 598.8 1079.5 599.9 1083.1 600.6 C1086.7 601.4 1091.4 604.4 1093.9 604.2 C1096.5 604.0 1097.5 602.6 1098.4 599.6 C1099.3 596.6 1098.5 589.3 1099.3 586.5 C1100.1 583.7 1100.0 582.3 1103.0 582.7 C1106.0 583.1 1114.4 588.6 1117.5 588.9 C1120.6 589.2 1120.7 587.9 1121.6 584.5 C1122.5 581.1 1122.0 571.5 1123.0 568.3 C1124.0 565.0 1124.1 564.5 1127.4 565.0 C1130.7 565.5 1139.5 570.8 1142.8 571.0 C1146.1 571.2 1146.5 569.8 1147.4 566.5 C1148.3 563.2 1146.9 554.8 1148.0 551.0 C1149.1 547.2 1150.3 545.6 1154.0 543.7 C1157.7 541.8 1163.7 540.2 1170.3 539.5 C1176.9 538.8 1185.5 538.9 1193.8 539.5 C1202.1 540.1 1215.7 542.6 1220.1 543.2" fill="none" stroke="#6792c8" stroke-width="2.20" stroke-linecap="round" stroke-linejoin="round" />
<ellipse cx="493.2" cy="416.1" rx="5.3" ry="8.3" fill="#f2a671" transform="rotate(28 493.2 416.1)"/>
<ellipse cx="518.9" cy="430.8" rx="5.3" ry="8.3" fill="#f2a671" transform="rotate(28 518.9 430.8)"/>
<ellipse cx="544.3" cy="448.3" rx="5.3" ry="8.3" fill="#f2a671" transform="rotate(28 544.3 448.3)"/>
<ellipse cx="639.5" cy="444.5" rx="5.3" ry="8.3" fill="#f2a671" transform="rotate(55 639.5 444.5)"/>
<ellipse cx="658.3" cy="468.3" rx="5.3" ry="8.3" fill="#f2a671" transform="rotate(55 658.3 468.3)"/>
<ellipse cx="675.2" cy="493.7" rx="5.3" ry="8.3" fill="#f2a671" transform="rotate(55 675.2 493.7)"/>
<ellipse cx="525.7" cy="526.4" rx="5.3" ry="8.3" fill="#f2a671" transform="rotate(22 525.7 526.4)"/>
<ellipse cx="553.9" cy="537.0" rx="5.3" ry="8.3" fill="#f2a671" transform="rotate(22 553.9 537.0)"/>
<ellipse cx="581.3" cy="550.2" rx="5.3" ry="8.3" fill="#f2a671" transform="rotate(22 581.3 550.2)"/>
<ellipse cx="542.9" cy="592.7" rx="5.3" ry="8.3" fill="#f2a671" transform="rotate(25 542.9 592.7)"/>
<ellipse cx="569.8" cy="605.8" rx="5.3" ry="8.3" fill="#f2a671" transform="rotate(25 569.8 605.8)"/>
<ellipse cx="596.5" cy="621.4" rx="5.3" ry="8.3" fill="#f2a671" transform="rotate(25 596.5 621.4)"/>
<ellipse cx="1003.0" cy="499.1" rx="5.2" ry="7.8" fill="#f2a671" transform="rotate(0 1003.0 499.1)"/>
<ellipse cx="1032.4" cy="498.4" rx="5.2" ry="7.8" fill="#f2a671" transform="rotate(0 1032.4 498.4)"/>
<ellipse cx="1063.4" cy="499.5" rx="5.2" ry="7.8" fill="#f2a671" transform="rotate(0 1063.4 499.5)"/>
<ellipse cx="963.2" cy="522.7" rx="5.3" ry="8.3" fill="#f2a671" transform="rotate(50 963.2 522.7)"/>
<ellipse cx="984.9" cy="542.2" rx="5.3" ry="8.3" fill="#f2a671" transform="rotate(50 984.9 542.2)"/>
<ellipse cx="1005.8" cy="563.8" rx="5.3" ry="8.3" fill="#f2a671" transform="rotate(50 1005.8 563.8)"/>
<ellipse cx="1048.8" cy="555.3" rx="5.3" ry="8.3" fill="#f2a671" transform="rotate(-30 1048.8 555.3)"/>
<ellipse cx="1074.6" cy="540.4" rx="5.3" ry="8.3" fill="#f2a671" transform="rotate(-30 1074.6 540.4)"/>
<ellipse cx="1101.9" cy="527.2" rx="5.3" ry="8.3" fill="#f2a671" transform="rotate(-30 1101.9 527.2)"/>
<ellipse cx="1085.0" cy="589.7" rx="5.3" ry="8.3" fill="#f2a671" transform="rotate(-30 1085.0 589.7)"/>
<ellipse cx="1109.2" cy="572.3" rx="5.3" ry="8.3" fill="#f2a671" transform="rotate(-30 1109.2 572.3)"/>
<ellipse cx="1134.2" cy="555.8" rx="5.3" ry="8.3" fill="#f2a671" transform="rotate(-30 1134.2 555.8)"/>
</svg>
</body></html>
